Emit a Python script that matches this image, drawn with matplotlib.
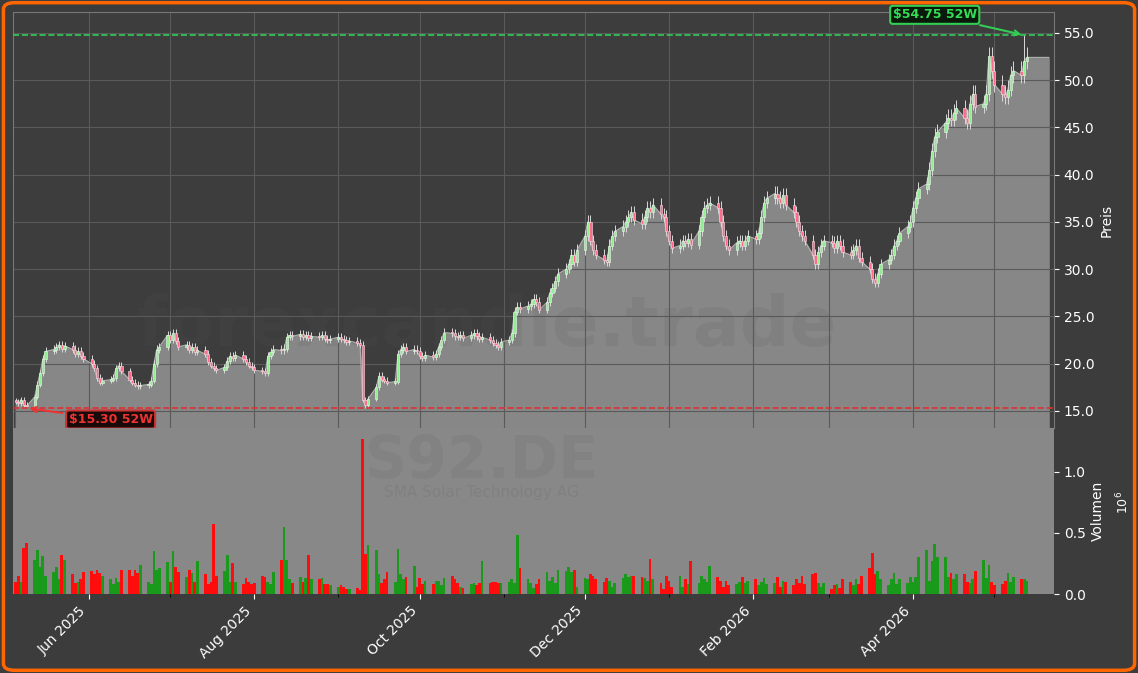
import matplotlib.pyplot as plt
import matplotlib.dates as mdates
import numpy as np
import pandas as pd
from matplotlib.patches import FancyBboxPatch

# Daily closes (business days, starting 2025-05-05)
closes = [
    16.0, 15.8, 16.2, 15.6, 15.5,
    16.5, 17.8, 19.0, 20.5, 21.3,
    21.5, 21.8, 22.0, 21.6, 21.9,
    21.5, 21.0, 21.3, 20.8, 20.5,
    20.0, 19.5, 18.5, 18.0, 18.2,
    18.3, 18.5, 19.5, 19.8, 19.2,
    18.3, 18.0, 17.8, 17.6, 17.7,
    17.8, 18.2, 20.0, 21.5, 21.8,
    23.0, 22.5, 23.2, 22.4, 21.8,
    22.0, 21.5, 21.8, 21.2, 21.4,
    21.0, 20.2, 19.8, 19.5, 19.3,
    19.6, 20.3, 20.8, 20.6, 20.9,
    20.5, 20.2, 19.8, 19.6, 19.3,
    19.2, 19.0, 20.8, 21.2, 21.5,
    21.4, 21.6, 22.8, 23.0, 22.9,
    23.1, 22.8, 23.0, 22.7, 22.9,
    22.8, 23.0, 22.6, 22.5, 22.6,
    22.8, 22.6, 22.5, 22.3, 22.4,
    22.2, 22.0, 16.2, 15.6, 16.3,
    17.5, 18.7, 18.3, 18.2, 18.0,
    18.1, 21.0, 21.5, 21.8, 21.3,
    21.5, 21.3, 20.8, 20.6, 20.9,
    20.7, 21.0, 21.8, 22.5, 23.3,
    23.2, 22.9, 22.8, 23.0, 22.7,
    23.0, 23.2, 22.9, 22.6, 22.8,
    22.5, 22.2, 22.0, 21.8, 22.3,
    22.5, 23.2, 25.5, 26.0, 25.8,
    26.1, 26.3, 26.8, 26.5, 25.7,
    26.5, 27.5, 28.0, 28.7, 29.5,
    30.0, 30.5, 31.5, 30.8, 32.0,
    33.5, 35.0, 33.0, 32.0, 31.5,
    31.0, 30.8, 32.5, 33.5, 34.0,
    34.5, 35.0, 35.5, 36.0, 35.2,
    34.8, 35.5, 36.5, 36.0, 36.8,
    35.8, 35.5, 34.0, 33.0, 32.2,
    32.5, 33.0, 32.8, 33.2, 32.6,
    34.0, 35.5, 36.5, 36.8, 37.0,
    36.5, 35.0, 33.5, 32.5, 32.0,
    32.8, 33.0, 32.5, 33.0, 33.5,
    33.2, 33.8, 35.5, 37.0, 37.5,
    38.0, 37.5, 37.0, 37.8, 36.8,
    36.0, 35.0, 34.0, 33.5, 33.0,
    31.5, 30.5, 31.8, 32.5, 33.0,
    32.8, 32.2, 33.0, 32.5, 31.8,
    31.5, 32.0, 32.5, 31.2, 30.8,
    30.0, 29.0, 28.5, 29.5, 30.5,
    31.0, 31.5, 32.5, 33.0, 33.8,
    34.5, 35.0, 36.5, 37.5, 38.5,
    39.0, 40.5, 42.5, 44.0, 44.5,
    45.5, 46.0, 45.8, 46.5, 47.0,
    46.0, 45.5, 47.5, 48.5, 47.2,
    47.5, 48.5, 52.5, 51.0, 49.5,
    48.5, 48.2, 49.0, 50.5, 51.0,
    50.5, 52.0, 52.4,
]
# Volumes in millions
volumes = [
    0.10, 0.15, 0.10, 0.38, 0.42,
    0.28, 0.36, 0.22, 0.31, 0.15,
    0.18, 0.22, 0.12, 0.32, 0.28,
    0.16, 0.09, 0.10, 0.12, 0.18,
    0.19, 0.16, 0.20, 0.17, 0.15,
    0.12, 0.08, 0.13, 0.10, 0.20,
    0.20, 0.15, 0.20, 0.17, 0.24,
    0.10, 0.08, 0.35, 0.20, 0.21,
    0.26, 0.10, 0.35, 0.22, 0.18,
    0.14, 0.20, 0.17, 0.10, 0.27,
    0.16, 0.08, 0.10, 0.57, 0.15,
    0.19, 0.32, 0.10, 0.25, 0.10,
    0.08, 0.13, 0.10, 0.08, 0.09,
    0.15, 0.14, 0.10, 0.08, 0.18,
    0.28, 0.55, 0.28, 0.12, 0.09,
    0.14, 0.10, 0.13, 0.32, 0.12,
    0.12, 0.13, 0.08, 0.08, 0.07,
    0.06, 0.07, 0.06, 0.04, 0.04,
    0.05, 0.03, 1.27, 0.33, 0.40,
    0.36, 0.16, 0.09, 0.12, 0.18,
    0.10, 0.37, 0.16, 0.12, 0.14,
    0.23, 0.06, 0.13, 0.08, 0.11,
    0.08, 0.11, 0.11, 0.07, 0.13,
    0.15, 0.12, 0.09, 0.06, 0.05,
    0.08, 0.09, 0.07, 0.09, 0.27,
    0.09, 0.10, 0.10, 0.09, 0.09,
    0.10, 0.12, 0.09, 0.48, 0.21,
    0.12, 0.09, 0.05, 0.08, 0.12,
    0.18, 0.11, 0.14, 0.09, 0.20,
    0.19, 0.22, 0.18, 0.20, 0.06,
    0.13, 0.12, 0.16, 0.15, 0.12,
    0.10, 0.13, 0.11, 0.06, 0.09,
    0.13, 0.16, 0.14, 0.15, 0.15,
    0.14, 0.13, 0.11, 0.29, 0.12,
    0.09, 0.04, 0.15, 0.11, 0.06,
    0.15, 0.06, 0.12, 0.08, 0.27,
    0.09, 0.15, 0.12, 0.10, 0.23,
    0.14, 0.11, 0.06, 0.11, 0.07,
    0.08, 0.10, 0.14, 0.09, 0.11,
    0.12, 0.07, 0.10, 0.13, 0.08,
    0.09, 0.14, 0.06, 0.11, 0.10,
    0.07, 0.12, 0.09, 0.15, 0.08,
    0.16, 0.17, 0.09, 0.06, 0.09,
    0.04, 0.07, 0.08, 0.05, 0.12,
    0.10, 0.07, 0.12, 0.08, 0.15,
    0.21, 0.34, 0.16, 0.19, 0.12,
    0.07, 0.12, 0.17, 0.08, 0.12,
    0.09, 0.14, 0.10, 0.14, 0.30,
    0.36, 0.11, 0.27, 0.41, 0.30,
    0.30, 0.14, 0.17, 0.12, 0.16,
    0.16, 0.10, 0.09, 0.12, 0.19,
    0.28, 0.13, 0.24, 0.10, 0.07,
    0.08, 0.11, 0.17, 0.10, 0.14,
    0.12, 0.12, 0.11,
]
first_close = 16.1
low_52w = 15.30
high_52w = 54.75
ticker = "S92.DE"
company = "SMA Solar Technology AG"

dates = pd.bdate_range("2025-05-05", periods=len(closes))
closes = np.array(closes)
opens = np.concatenate([[first_close], closes[:-1]])
up = closes >= opens
highs = np.maximum(opens, closes) * 1.02
lows = np.minimum(opens, closes) * 0.985
highs[-2] = high_52w
lows[4] = low_52w
x = mdates.date2num(dates)

bg = '#3c3c3c'
fig = plt.figure(figsize=(11.38, 6.73), dpi=100, facecolor=bg)
ax = fig.add_axes([13/1138, 1-428/673, 1041/1138, 416/673])
axv = fig.add_axes([13/1138, 1-594/673, 1041/1138, 166/673], sharex=ax)
border = FancyBboxPatch((0.003, 0.004), 0.994, 0.992, boxstyle="round,pad=0,rounding_size=0.01",
                        transform=fig.transFigure, fill=False, edgecolor='#ff6600', linewidth=2.5)
fig.patches.append(border)

ymin = 13.2
ax.set_facecolor('#3d3d3d')
fill_x = np.append(x, x[-1] + 8)
fill_y = np.append(closes, closes[-1])
ax.fill_between(fill_x, fill_y, ymin, color='#878787', zorder=1)
ax.plot(fill_x, fill_y, color='#b0b0b0', lw=0.8, zorder=2)
ax.vlines(x, lows, highs, color='#d8d8d8', lw=0.7, zorder=3)
body_lo = np.minimum(opens, closes)
body_h = np.maximum(np.abs(closes - opens), 0.15)
ax.bar(x[up], body_h[up], bottom=body_lo[up], width=0.8, color='#90ee90', edgecolor='#e8ffe8', lw=0.4, zorder=4)
ax.bar(x[~up], body_h[~up], bottom=body_lo[~up], width=0.8, color='#ff6b8b', edgecolor='#ffe0e8', lw=0.4, zorder=4)

ax.axhline(high_52w, color='#33cc55', ls='--', lw=1.2, zorder=5)
ax.axhline(low_52w, color='#e03030', ls='--', lw=1.2, zorder=5)
ax.annotate(f"${high_52w:.2f} 52W", xy=(x[-2], high_52w), xytext=(x[-2] - 33, 56.9),
            color='#33dd55', fontsize=9, fontweight='bold', ha='center', va='center',
            bbox=dict(boxstyle='round,pad=0.2', fc='#0a1a0a', ec='#33cc55', lw=1.5),
            arrowprops=dict(arrowstyle='->', color='#33cc55', lw=1.5), zorder=6)
ax.annotate(f"${low_52w:.2f} 52W", xy=(x[4], low_52w), xytext=(x[4] + 31, 14.1),
            color='#ee3333', fontsize=9, fontweight='bold', ha='center', va='center',
            bbox=dict(boxstyle='round,pad=0.2', fc='#1a0a0a', ec='#cc3333', lw=1.5),
            arrowprops=dict(arrowstyle='->', color='#ee3333', lw=1.5), zorder=6)

ax.text(0.455, 0.245, "forexcandle.trade", transform=ax.transAxes, fontsize=50, fontweight='bold',
        color='#555555', alpha=0.13, ha='center', va='center', zorder=2)
axv.text(0.45, 0.8, ticker, transform=axv.transAxes, fontsize=42, fontweight='bold',
         color='#6e6e6e', alpha=0.22, ha='center', va='center')
axv.text(0.45, 0.61, company, transform=axv.transAxes, fontsize=11,
         color='#6e6e6e', alpha=0.3, ha='center', va='center')

ax.set_ylim(ymin, 57.2)
ax.yaxis.tick_right()
ax.yaxis.set_label_position('right')
ax.set_ylabel('Preis', color='white')
ax.set_yticks(np.arange(15, 56, 5))
ax.yaxis.set_major_formatter(plt.FuncFormatter(lambda v, p: f"{v:.1f}"))
ax.grid(True, color='#5a5a5a', lw=0.8)
ax.tick_params(colors='white', labelbottom=False, bottom=False)
for s in ax.spines.values():
    s.set_color('#777777')

axv.set_facecolor('#888888')
vcol = np.where(up, '#1a9a1a', '#ff0d0d')
axv.bar(x, volumes, width=1.0, color=vcol)
axv.set_ylim(0, 1.36)
axv.yaxis.tick_right()
axv.yaxis.set_label_position('right')
axv.set_ylabel('Volumen', color='white')
axv.set_yticks([0, 0.5, 1.0])
axv.yaxis.set_major_formatter(plt.FuncFormatter(lambda v, p: f"{v:.1f}"))
axv.text(1.058, 0.55, r'$10^6$', transform=axv.transAxes, rotation=90, color='white', fontsize=9, va='center')
axv.tick_params(colors='white')
for s in axv.spines.values():
    s.set_visible(False)
axv.xaxis.set_major_locator(mdates.MonthLocator(bymonth=[6, 8, 10, 12, 2, 4]))
axv.xaxis.set_minor_locator(mdates.MonthLocator())
axv.xaxis.set_major_formatter(mdates.DateFormatter('%b %Y'))
ax.xaxis.set_minor_locator(mdates.MonthLocator())
ax.grid(True, which='minor', axis='x', color='#5a5a5a', lw=0.8)
plt.setp(axv.get_xticklabels(), rotation=45, ha='right')
ax.set_xlim(x[0] - 1, x[-1] + 10)

fig.savefig('out.png', dpi=100, facecolor=bg)
